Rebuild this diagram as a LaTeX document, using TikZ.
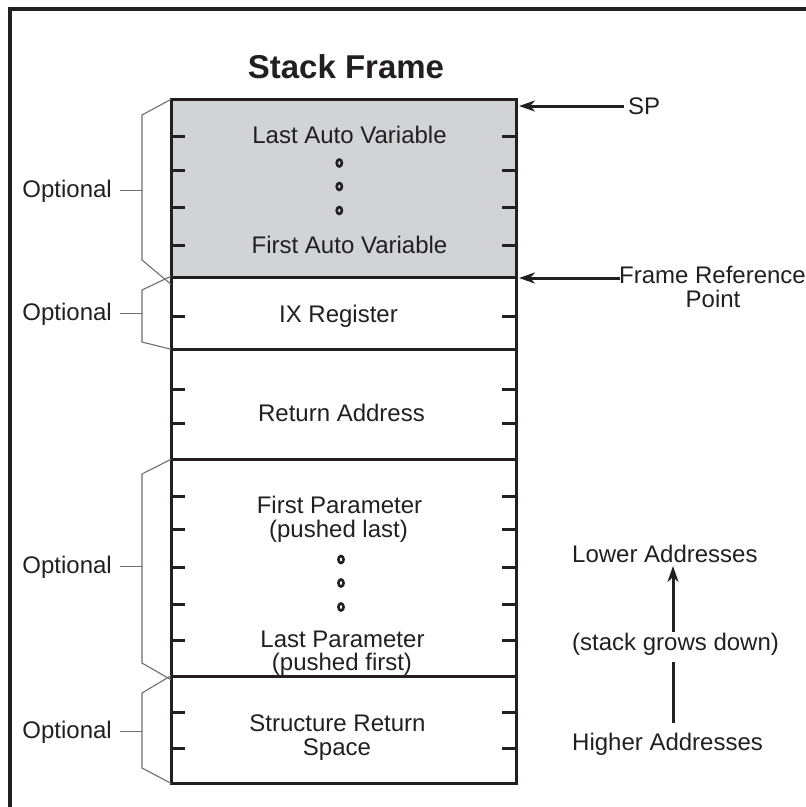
\documentclass[tikz,border=0pt]{standalone}
\usepackage{fontspec}
\setmainfont{Liberation Sans}
\usetikzlibrary{arrows.meta,shapes.geometric}
\definecolor{linec}{HTML}{231F20}
\definecolor{shade}{HTML}{D1D3D4}
\definecolor{bracec}{HTML}{6D6E70}
\tikzset{
  sect/.style={draw=linec, line width=3pt, minimum width=345pt, inner sep=0pt, outer sep=0pt},
  tick/.style={draw=linec, line width=3pt},
  bracepath/.style={draw=bracec, line width=1.1pt},
  lbl/.style={font=\fontsize{24}{25}\selectfont, text=linec, inner sep=0pt, anchor=base},
  optl/.style={lbl, anchor=base east},
  arr/.style={draw=linec, line width=3pt, -{Stealth[length=16pt,width=11pt,inset=5pt]}},
  plainline/.style={draw=linec, line width=3pt},
  dotc/.style={draw=linec, line width=2.6pt, ellipse, inner sep=0pt, minimum width=5.2pt, minimum height=7pt}
}
\begin{document}
\begin{tikzpicture}[x=1pt,y=-1pt]
\useasboundingbox (0,0) rectangle (806,807);
% outer frame
\draw[draw=linec, line width=4pt] (9.5,809) -- (9.5,8.5) -- (808,8.5);
% title
\node[lbl, font=\fontsize{33}{35}\bfseries] (title) at (346,78) {Stack Frame};
% sections
\node[sect, fill=shade, minimum height=178pt] (sec1) at (343.5,188.3) {};
\node[sect, minimum height=72pt] (sec2) at (343.5,313.3) {};
\node[sect, minimum height=110pt] (sec3) at (343.5,404.3) {};
\node[sect, minimum height=217.4pt] (sec4) at (343.5,568) {};
\node[sect, minimum height=106.6pt] (sec5) at (343.5,730) {};
% ticks
\foreach \y in {136.5,170,207.5,245,316,389,423,496,529,567,604,640,712,748}{
  \draw[tick] (171,\y) -- (185,\y);
  \draw[tick] (502,\y) -- (516,\y);
}
% texts in the sections
\node[lbl] (lav) at (349.5,143) {Last Auto Variable};
\node[dotc] (d1) at (339.3,163) {};
\node[dotc] (d2) at (339.3,186.5) {};
\node[dotc] (d3) at (339.3,210.5) {};
\node[lbl] (fav) at (349.5,253) {First Auto Variable};
\node[lbl] (ix) at (338.5,322) {IX Register};
\node[lbl] (ret) at (341.5,421) {Return Address};
\node[lbl] (fp1) at (339.5,513) {First Parameter};
\node[lbl] (fp2) at (338.5,537) {(pushed last)};
\node[dotc] (d4) at (341,559.5) {};
\node[dotc] (d5) at (341,583) {};
\node[dotc] (d6) at (341,607) {};
\node[lbl] (lp1) at (342.5,647) {Last Parameter};
\node[lbl] (lp2) at (342,670.5) {(pushed first)};
\node[lbl] (sr1) at (337.5,731) {Structure Return};
\node[lbl] (sr2) at (337,755) {Space};
% braces
\coordinate (b1t) at (142,115);
\coordinate (b1b) at (142,260);
\coordinate (b2t) at (142,290);
\coordinate (b2b) at (142,342);
\coordinate (b4t) at (142,474);
\coordinate (b4b) at (142,663);
\coordinate (b5t) at (142,693);
\coordinate (b5b) at (142,768);
\draw[bracepath] (sec1.north west) -- (b1t) -- (b1b) -- ([yshift=-7pt]sec1.south west);
\draw[bracepath] ([yshift=1pt]sec2.north west) -- (b2t) -- (b2b) -- (sec2.south west);
\draw[bracepath] (sec4.north west) -- (b4t) -- (b4b) -- ([yshift=-3pt]sec4.south west);
\draw[bracepath] ([yshift=1pt]sec5.north west) -- (b5t) -- (b5b) -- (sec5.south west);
\node[optl] (opt1) at (112,197) {Optional};
\node[optl] (opt2) at (112,320) {Optional};
\node[optl] (opt4) at (112,573) {Optional};
\node[optl] (opt5) at (112,738) {Optional};
\draw[bracepath] ([xshift=8pt]opt1.east) -- (opt1.east -| b1t);
\draw[bracepath] ([xshift=8pt]opt2.east) -- (opt2.east -| b2t);
\draw[bracepath] ([xshift=8pt]opt4.east) -- (opt4.east -| b4t);
\draw[bracepath] ([xshift=8pt]opt5.east) -- (opt5.east -| b5t);
% SP and frame reference
\node[lbl, anchor=base west] (sp) at (628,114) {SP};
\coordinate (spfrom) at (624,106);
\coordinate (spto) at (519,106);
\draw[arr] (spfrom) -- (spto);
\node[lbl] (frp1) at (712.5,283) {Frame Reference};
\node[lbl] (frp2) at (713,307) {Point};
\coordinate (frfrom) at (620,278);
\coordinate (frto) at (519,278);
\draw[arr] (frfrom) -- (frto);
% address direction
\node[lbl, anchor=base west] (low) at (572,562) {Lower Addresses};
\node[lbl, anchor=base west] (grow) at (572,650) {(stack grows down)};
\node[lbl, anchor=base west] (high) at (572,750) {Higher Addresses};
\coordinate (upfrom) at (673,632);
\coordinate (upto) at (673,566);
\draw[arr] (upfrom) -- (upto);
\coordinate (lnfrom) at (673,723);
\coordinate (lnto) at (673,662);
\draw[plainline] (lnfrom) -- (lnto);
\end{tikzpicture}
\end{document}
